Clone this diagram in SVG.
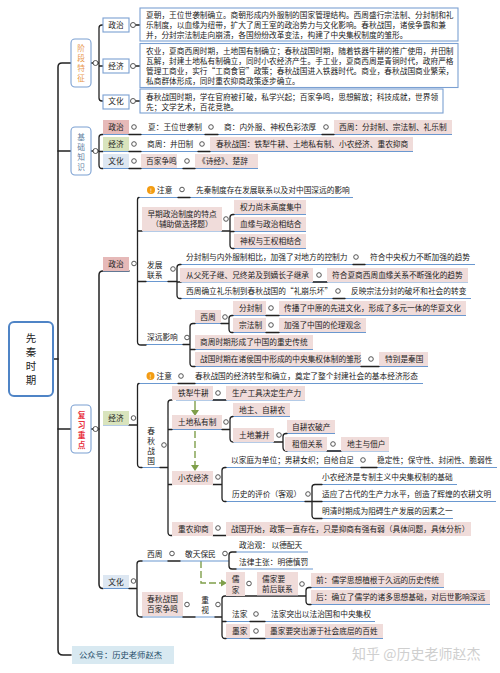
<svg xmlns="http://www.w3.org/2000/svg" width="500" height="673" viewBox="0 0 500 673">
<style>
text{font-family:"Noto Sans CJK SC","Liberation Sans",sans-serif;font-size:7.7px;fill:#222}
.m{text-anchor:middle}
.box{fill:#fff;stroke:#7ba0d2;stroke-width:1.1}
.hd{fill:#fff;stroke:#7ba0d2;stroke-width:1.1}
.p{fill:#f0dcda}
.r{fill:#e6b9b8}
.g{fill:#d9e4bd}
.l{fill:#dde7f2}
.k{fill:none;stroke:#222;stroke-width:1.3;stroke-linecap:round}
.k2{fill:none;stroke:#222;stroke-width:1.5;stroke-linecap:round}
.b{fill:none;stroke:#6a98d0;stroke-width:1.1}
.c{fill:#fff;stroke:#444;stroke-width:.9}
.ar{fill:none;stroke:#7f9f4a;stroke-width:1.4}
.ad{fill:none;stroke:#7f9f4a;stroke-width:1.4;stroke-dasharray:7 3}
.ah{fill:#7f9f4a}
.o{fill:#f39c12}
</style>

<g id="connectors">
<path class="k2" d="M71 63H62Q58 63 58 67V650Q58 655 63 655H71"/>
<path class="k2" d="M71 151H58M71 429H58M53 359H58"/>
<path class="k2" d="M129 271H103Q99 271 99 275V584Q99 588.500 103 588.500"/>
<path class="k2" d="M91 429H99"/>
<path class="k" d="M103 25H102Q99 25 99 28V98Q99 101 102 101H103M91 63H99M103 66H99M136 25H140M136 66H140M136 101H140"/>
<path class="k" d="M103 134.500H102Q99 134.500 99 137.500V165Q99 168.500 102 168.500H103M91 151H99M99 151.500H103"/>
<path class="b" d="M103 134.500H452M103 151.500H413M103 168.500H258"/>
<path class="k" d="M129 134.500H141M205 134.500H218M322 134.500H334M129 151.500H141M198 151.500H210M129 168.500H141M183 168.500H195"/>
<path class="b" d="M103 271H129M139 197.500H353M142 231H222M234 214.500H306M234 231.500H306M234 248.500H306M146 281.500H168M181 264.500H475M181 282H468M181 298.500H471M146 344.500H183M195 323.500H221M233 315.500H466M233 332.500H366M195 349.500H313M195 366.500H428"/>
<path class="k" d="M178 197.500H190M139 197.500Q137.500 197.500 137.500 200V342Q137.500 345 141 345H146M137.500 231H142M222 231H230M234 214.500H233Q230 214.500 230 217.500V245Q230 248.500 233 248.500H234M230 231.500H234M137.500 281.500H146M168 281.500H177M181 264.500H180Q177 264.500 177 267.500V295Q177 298.500 180 298.500H181M177 282H181M353 264.500H365M313 282H327M333 298.500H345M183 344.500H190M195 323.500H193Q190 323.500 190 326.500V363Q190 366.500 193 366.500H195M190 349.500H195M221 323.500H229M233 315.500H232Q229 315.500 229 318.500V329Q229 332.500 232 332.500H233M266 315.500H279M266 332.500H279M361 366.500H379"/>
<path class="b" d="M103 425H129M139 383.500H423M142 467.500H160M176 400H305M172 429.500H222M233 416.500H290M233 442H274M287 433.500H335M287 451H389M172 484.500H213M226 467.500H497M226 501.500H305M322 484.500H457M322 501.500H496M322 518.500H453M172 535.500H471"/>
<path class="k" d="M129 425H137.500M178 383.500H195M139 383.500Q137.500 383.500 137.500 386V464Q137.500 467.500 141 467.500H142M160 467.500H168M172 400H171Q168 400 168 403V532Q168 535.500 171 535.500H172M168 429.500H172M168 484.500H172M213 400H226M222 429.500H230M233 416.500Q230 416.500 230 419.500V438Q230 442 233 442M274 442H283M287 433.500H286Q283 433.500 283 436.500V447Q283 451 286 451H287M327 451H341M213 484.500H222M226 467.500H225Q222 467.500 222 470.500V498Q222 501.500 225 501.500H226M361 467.500H377M305 501.500H312M322 484.500H315Q312 484.500 312 487.500V515Q312 518.500 315 518.500H322M312 501.500H322M213 535.500H226"/>
<path class="ar" d="M195 401V411"/><path class="ah" d="M191 410H199L195 416Z"/>
<path class="ad" d="M195 431V465"/><path class="ah" d="M191 465H199L195 471Z"/>
<path class="ad" d="M201 561V583H222"/><path class="ah" d="M221 579.500L227 583L221 586.500Z"/>
<path class="b" d="M103 588.500H129M142 561H168M180 561H229M236 552H308M236 569H313M226 596H236M142 617H183M195 617H215M257 595.500H298M311 587.500H444M311 604.500H490M226 621.500H375M226 638.500H383"/>
<path class="k" d="M129 588.500H137M142 561H140Q137 561 137 564V613Q137 617 141 617H142M168 561H180M236 552H232Q229 552 229 555V566Q229 569 232 569H236M183 617H195M215 617H222M226 596H225Q222 596 222 599V635Q222 638.500 225 638.500H226M226 596H306M311 587.500H309Q306 587.500 306 590.500V601Q306 604.500 309 604.500H311M222 621.500H226M250 621.500H265M250 638.500H265"/>
</g>

<g id="root"><rect x="9" y="322" width="44" height="74" rx="5" fill="#fff" stroke="#4f84c6" stroke-width="2"/>
<text class="m" x="31" y="342" style="font-size:10.500px">先</text><text class="m" x="31" y="356" style="font-size:10.500px">秦</text><text class="m" x="31" y="370" style="font-size:10.500px">时</text><text class="m" x="31" y="384" style="font-size:10.500px">期</text></g>

<g id="n-stage"><rect class="hd" x="71" y="39" width="20" height="48" rx="4"/><circle class="c" cx="95.500" cy="63" r="2.500"/>
<text class="m" x="81" y="51" style="fill:#e8984c">阶</text><text class="m" x="81" y="61" style="fill:#e8984c">段</text><text class="m" x="81" y="71" style="fill:#e8984c">特</text><text class="m" x="81" y="81" style="fill:#e8984c">征</text></g>

<g id="n-s-pol"><rect class="box" x="103" y="18" width="26" height="14"/><circle class="c" cx="133" cy="25" r="2.500"/><text class="m" x="116" y="27.800">政治</text></g>
<g id="n-s-eco"><rect class="box" x="103" y="59" width="26" height="14"/><circle class="c" cx="133" cy="66" r="2.500"/><text class="m" x="116" y="68.800">经济</text></g>
<g id="n-s-cul"><rect class="box" x="103" y="95" width="26" height="14"/><circle class="c" cx="133" cy="101" r="2.500"/><text class="m" x="116" y="103.800">文化</text></g>

<g id="n-s-pol-text"><rect class="box" x="140" y="8" width="318" height="33"/>
<text x="146" y="18.300">夏朝，王位世袭制确立。商朝形成内外服制的国家管理结构。西周盛行宗法制、分封制和礼</text>
<text x="146" y="27.800">乐制度，以血缘为纽带，扩大了周王室的政治势力与文化影响。春秋战国，诸侯争霸和兼</text>
<text x="146" y="37.800">并，分封宗法制走向崩溃，各国纷纷改革变法，构建了中央集权制度的雏形。</text></g>
<g id="n-s-eco-text"><rect class="box" x="140" y="43.500" width="318" height="44"/>
<text x="146" y="53.500">农业，夏商西周时期，土地国有制确立；春秋战国时期，随着铁器牛耕的推广使用，井田制</text>
<text x="146" y="63.800">瓦解，封建土地私有制确立，同时小农经济产生。手工业，夏商西周是青铜时代，政府严格</text>
<text x="146" y="73.800">管理工商业，实行“工商食官”政策；春秋战国进入铁器时代。商业，春秋战国商业繁荣，</text>
<text x="146" y="83.800">私商群体形成，同时重农抑商政策逐步确立。</text></g>
<g id="n-s-cul-text"><rect class="box" x="140" y="89" width="303" height="24"/>
<text x="146" y="99.500">春秋战国时期，学在官府被打破，私学兴起；百家争鸣，思想解放；科技成就，世界领</text>
<text x="146" y="109.500">先；文学艺术，百花竞艳。</text></g>

<g id="n-basic"><rect class="hd" x="71" y="127" width="20" height="48" rx="4"/><circle class="c" cx="95.500" cy="151" r="2.500"/>
<text class="m" x="81" y="139.500" style="fill:#5f7f9f">基</text><text class="m" x="81" y="149.500" style="fill:#5f7f9f">础</text><text class="m" x="81" y="159.500" style="fill:#5f7f9f">知</text><text class="m" x="81" y="169.500" style="fill:#5f7f9f">识</text></g>

<g id="n-b1"><rect class="r" x="103" y="120" width="26" height="14"/><text class="m" x="116" y="130.300">政治</text><circle class="c" cx="134" cy="127" r="2.300"/></g>
<g id="n-b1a"><text x="148" y="130.300">夏：王位世袭制</text><circle class="c" cx="211" cy="127" r="2.300"/></g>
<g id="n-b1b"><text x="224" y="130.300">商：内外服、神权色彩浓厚</text><circle class="c" cx="326" cy="127" r="2.300"/></g>
<g id="n-b1c"><rect class="p" x="334" y="120" width="118" height="14"/><text x="339" y="130.300">西周：分封制、宗法制、礼乐制</text></g>
<g id="n-b2"><rect class="g" x="103" y="137" width="26" height="14"/><text class="m" x="116" y="147.300">经济</text><circle class="c" cx="134" cy="144" r="2.300"/></g>
<g id="n-b2a"><text x="147" y="147.300">商周：井田制</text><circle class="c" cx="202" cy="144" r="2.300"/></g>
<g id="n-b2b"><rect class="p" x="210" y="137" width="203" height="14"/><text x="216" y="147.300">春秋战国：铁犁牛耕、土地私有制、小农经济、重农抑商</text></g>
<g id="n-b3"><rect class="l" x="103" y="154" width="26" height="14"/><text class="m" x="116" y="164.300">文化</text><circle class="c" cx="134" cy="161" r="2.300"/></g>
<g id="n-b3a"><rect class="p" x="141" y="154" width="36" height="14"/><text x="146" y="164.300">百家争鸣</text><circle class="c" cx="187" cy="161" r="2.300"/></g>
<g id="n-b3b"><rect class="p" x="195" y="154" width="63" height="14"/><text x="198" y="164.300">《诗经》、楚辞</text></g>

<g id="n-review"><rect class="hd" x="71" y="405" width="20" height="48" rx="4"/><circle class="c" cx="95.500" cy="429" r="2.500"/>
<text class="m" x="81.500" y="418" style="fill:#e8303c;font-weight:700">复</text><text class="m" x="81.500" y="428" style="fill:#e8303c;font-weight:700">习</text><text class="m" x="81.500" y="438" style="fill:#e8303c;font-weight:700">重</text><text class="m" x="81.500" y="448" style="fill:#e8303c;font-weight:700">点</text></g>

<g id="n-pol"><rect class="r" x="103" y="257" width="26" height="14"/><text class="m" x="116" y="267.300">政治</text><circle class="c" cx="134" cy="263.500" r="2.300"/></g>
<g id="n-note1"><circle class="o" cx="151" cy="190" r="4"/><text class="m" x="151" y="192.500" style="font-size:6px;fill:#fff">!</text><text x="157" y="192.800">注意</text><circle class="c" cx="182" cy="189.500" r="2.300"/><text x="196" y="192.800">先秦制度存在发展联系以及对中国深远的影响</text></g>
<g id="n-early"><rect class="p" x="142" y="207" width="80" height="24"/><text class="m" x="182" y="216.800">早期政治制度的特点</text><text class="m" x="182" y="226.800">（辅助做选择题）</text><circle class="c" cx="226" cy="219" r="2.300"/></g>
<g id="n-e1"><rect class="p" x="234" y="200" width="72" height="14"/><text x="240" y="210.300">权力尚未高度集中</text></g>
<g id="n-e2"><rect class="p" x="234" y="217" width="72" height="14"/><text x="240" y="227.300">血缘与政治相结合</text></g>
<g id="n-e3"><rect class="p" x="234" y="234" width="72" height="14"/><text x="240" y="244.300">神权与王权相结合</text></g>
<g id="n-dev"><text x="147" y="267.800">发展</text><text x="147" y="277.800">联系</text><circle class="c" cx="173" cy="269" r="2.300"/></g>
<g id="n-d1"><text x="186" y="260.300">分封制与内外服制相比，加强了对地方的控制力</text><circle class="c" cx="356" cy="257" r="2.300"/><text x="370" y="260.300">符合中央权力不断加强的趋势</text></g>
<g id="n-d2"><rect class="p" x="180" y="268" width="133" height="14"/><text x="186" y="278.300">从父死子继、兄终弟及到嫡长子继承</text><circle class="c" cx="319" cy="275" r="2.300"/><rect class="p" x="327" y="268" width="141" height="14"/><text x="332" y="278.300">符合夏商西周血缘关系不断强化的趋势</text></g>
<g id="n-d3"><text x="186" y="294.300">西周确立礼乐制到春秋战国的“礼崩乐坏”</text><circle class="c" cx="338" cy="291" r="2.300"/><text x="351" y="294.300">反映宗法分封的破坏和社会的转变</text></g>
<g id="n-far"><text x="147" y="340.300">深远影响</text><circle class="c" cx="187" cy="337.500" r="2.300"/></g>
<g id="n-f1"><rect class="p" x="195" y="310" width="26" height="13"/><text class="m" x="208" y="320">西周</text><circle class="c" cx="225" cy="317" r="2.300"/></g>
<g id="n-f1a"><rect class="p" x="233" y="301" width="33" height="14"/><text x="239" y="311">分封制</text><circle class="c" cx="271" cy="308" r="2.300"/><rect class="p" x="279" y="301" width="187" height="14"/><text x="284" y="311">传播了中原的先进文化，形成了多元一体的华夏文化</text></g>
<g id="n-f1b"><rect class="p" x="233" y="318" width="33" height="14"/><text x="239" y="328">宗法制</text><circle class="c" cx="271" cy="325" r="2.300"/><rect class="p" x="279" y="318" width="87" height="14"/><text x="284" y="328">加强了中国的伦理观念</text></g>
<g id="n-f2"><rect class="p" x="195" y="335" width="118" height="14"/><text x="200" y="345">商周时期形成了中国的重史传统</text></g>
<g id="n-f3"><rect class="p" x="195" y="352" width="166" height="14"/><text x="200" y="362">战国时期在诸侯国中形成的中央集权体制的雏形</text><circle class="c" cx="371" cy="359" r="2.300"/><rect class="p" x="379" y="352" width="49" height="14"/><text x="385" y="362">特别是秦国</text></g>

<g id="n-eco"><rect class="g" x="103" y="411" width="26" height="14"/><text class="m" x="116" y="421">经济</text><circle class="c" cx="133.500" cy="418" r="2.300"/></g>
<g id="n-note2"><circle class="o" cx="150.500" cy="376" r="4"/><text class="m" x="150.500" y="378.500" style="font-size:6px;fill:#fff">!</text><text x="156.500" y="379">注意</text><circle class="c" cx="181" cy="376" r="2.300"/><text x="195" y="379">春秋战国的经济转型和确立，奠定了整个封建社会的基本经济形态</text></g>
<g id="n-cq"><text class="m" x="151" y="434">春</text><text class="m" x="151" y="444">秋</text><text class="m" x="151" y="454">战</text><text class="m" x="151" y="464">国</text><circle class="c" cx="164" cy="445" r="2.300"/></g>
<g id="n-c1"><rect class="p" x="172" y="386" width="41" height="14"/><text x="178" y="396">铁犁牛耕</text><circle class="c" cx="218" cy="393" r="2.300"/><rect class="p" x="226" y="386" width="79" height="14"/><text x="232" y="396">生产工具决定生产力</text></g>
<g id="n-c2"><rect class="p" x="172" y="415" width="50" height="14"/><text x="178" y="425">土地私有制</text><circle class="c" cx="226" cy="422" r="2.300"/></g>
<g id="n-c2a"><rect class="p" x="233" y="403" width="57" height="13"/><text x="239" y="412.800">地主、自耕农</text></g>
<g id="n-c2b"><rect class="p" x="233" y="428" width="41" height="14"/><text x="239" y="438">土地兼并</text><circle class="c" cx="279" cy="435" r="2.300"/></g>
<g id="n-c2c"><rect class="p" x="287" y="420" width="48" height="13"/><text x="292" y="429.800">自耕农破产</text></g>
<g id="n-c2d"><rect class="p" x="285" y="437" width="42" height="14"/><text x="292" y="447">租佃关系</text><circle class="c" cx="333" cy="444" r="2.300"/><rect class="p" x="341" y="437" width="48" height="14"/><text x="347" y="447">地主与佃户</text></g>
<g id="n-c3"><rect class="p" x="172" y="471" width="41" height="14"/><text x="178" y="480.500">小农经济</text><circle class="c" cx="218" cy="477" r="2.300"/></g>
<g id="n-c3a"><text x="231" y="463.300">以家庭为单位；男耕女织；自给自足</text><circle class="c" cx="363" cy="460" r="2.300"/><text x="377" y="463.300">稳定性；保守性、封闭性、脆弱性</text></g>
<g id="n-c3b"><text x="232" y="497.300">历史的评价（客观）</text><circle class="c" cx="308" cy="494" r="2.300"/></g>
<g id="n-c3c"><text x="322" y="480.300">小农经济是专制主义中央集权制的基础</text></g>
<g id="n-c3d"><text x="322" y="497.300">适应了古代的生产力水平，创造了辉煌的农耕文明</text></g>
<g id="n-c3e"><text x="322" y="514.300">明清时期成为阻碍生产发展的因素之一</text></g>
<g id="n-c4"><rect class="p" x="172" y="522" width="41" height="14"/><text x="178" y="531.800">重农抑商</text><circle class="c" cx="218" cy="528" r="2.300"/><rect class="p" x="226" y="522" width="245" height="14"/><text x="231" y="531.800">战国开始，政策一直存在，只是抑商有强有弱（具体问题，具体分析）</text></g>

<g id="n-cul"><rect class="l" x="103" y="575" width="26" height="13"/><text class="m" x="116" y="584.500">文化</text><circle class="c" cx="133.500" cy="581" r="2.300"/></g>
<g id="n-w1"><text x="147" y="556.500">西周</text><circle class="c" cx="172" cy="553.500" r="2.300"/><text x="185" y="556.500">敬天保民</text><circle class="c" cx="225" cy="553.500" r="2.300"/></g>
<g id="n-w2"><text x="239" y="548">政治观： 以德配天</text></g>
<g id="n-w3"><text x="239" y="565">法律主张：明德慎罚</text></g>
<g id="n-bj"><rect class="p" x="142" y="592" width="41" height="24"/><text class="m" x="162.500" y="602">春秋战国</text><text class="m" x="162.500" y="612">百家争鸣</text><circle class="c" cx="187" cy="604.500" r="2.300"/></g>
<g id="n-zs"><text class="m" x="205" y="603">重</text><text class="m" x="205" y="613">视</text><circle class="c" cx="218" cy="604.500" r="2.300"/></g>
<g id="n-ru"><rect class="p" x="226" y="572" width="19" height="24"/><text class="m" x="235.500" y="582">儒</text><text class="m" x="235.500" y="592.500">家</text><circle class="c" cx="249" cy="583.500" r="2.300"/></g>
<g id="n-ru2"><rect class="p" x="257" y="572" width="41" height="23.500"/><text x="262" y="581.800">儒家要</text><text x="262" y="591.800">前后联系</text><circle class="c" cx="302" cy="584" r="2.300"/></g>
<g id="n-ru3"><rect class="p" x="311" y="573" width="133" height="14"/><text x="316" y="583">前：儒学思想植根于久远的历史传统</text></g>
<g id="n-ru4"><rect class="p" x="311" y="590" width="179" height="14"/><text x="316" y="600">后：确立了儒学的诸多思想基础，对后世影响深远</text></g>
<g id="n-fa"><text x="232" y="617">法家</text><circle class="c" cx="256" cy="614" r="2.300"/><text x="271" y="617">法家突出以法治国和中央集权</text></g>
<g id="n-mo"><rect class="p" x="226" y="624" width="24" height="14"/><text x="232" y="634">墨家</text><circle class="c" cx="256" cy="631" r="2.300"/><rect class="p" x="265" y="624" width="118" height="14"/><text x="270" y="634">墨家要突出源于社会底层的百姓</text></g>

<g id="n-account"><rect x="72" y="646" width="102" height="18" fill="#d8e9f1"/><text x="79" y="658" style="font-size:8.300px;fill:#244c68">公众号：历史老师赵杰</text></g>
<text x="352" y="659" style="font-size:14px;fill:#cfcfcf">知乎 @历史老师赵杰</text>
</svg>
